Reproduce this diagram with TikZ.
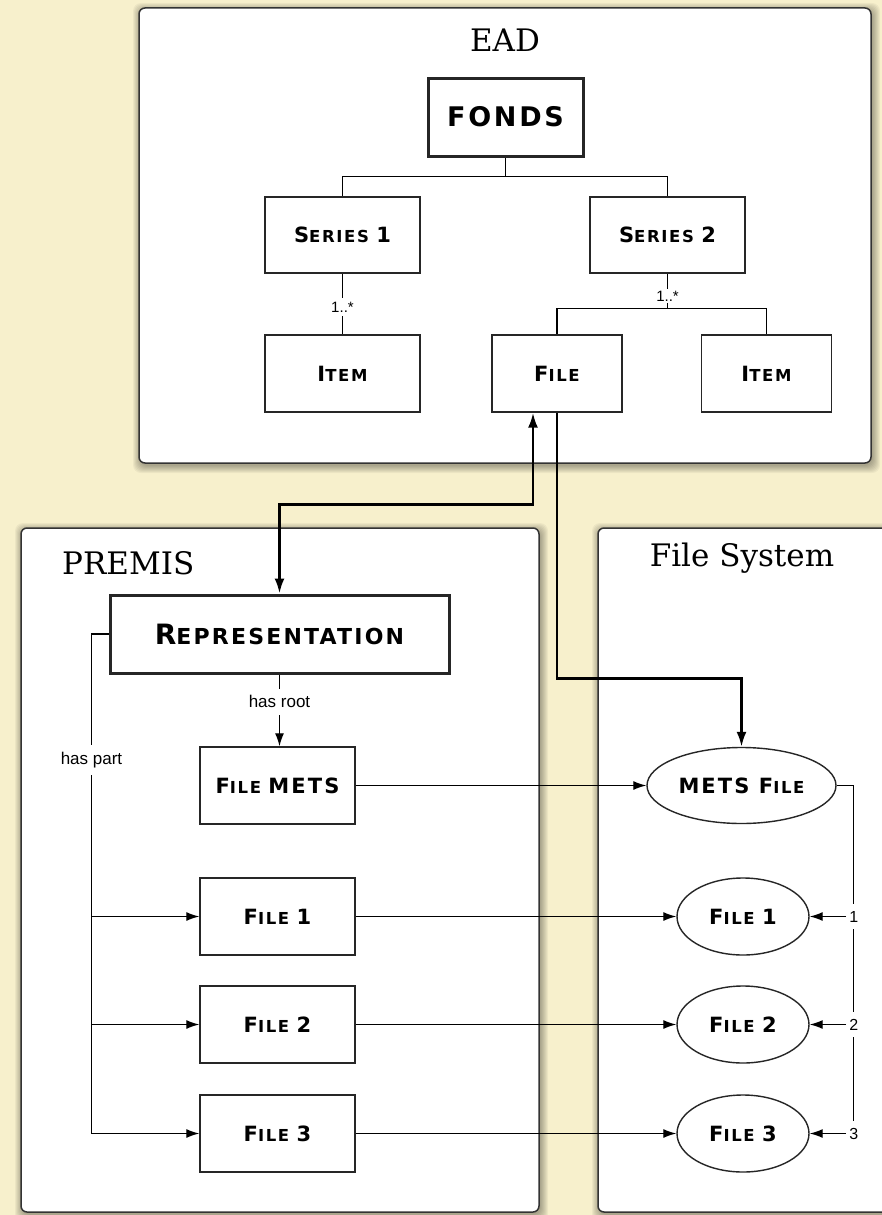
\documentclass[tikz,border=0pt]{standalone}
\usepackage{fontspec}
\setmainfont{Liberation Sans}
\newfontfamily\cgfont[LetterSpace=10]{DejaVu Sans}
\newfontfamily\ttlfont{DejaVu Serif}
\usetikzlibrary{arrows.meta,shapes.geometric}
\definecolor{cream}{RGB}{247,240,204}
% small-caps look: large initials, smaller remaining capitals
\newcommand\bgsz{21}
\newcommand\smsz{16.5}
\newcommand\Bg[1]{{\fontsize{\bgsz}{\bgsz}\selectfont #1}}
\newcommand\Sm[1]{{\fontsize{\smsz}{\smsz}\selectfont #1}}
% soft shadow behind a panel: top-left x,y and bottom-right x,y
\newcommand\softshadow[4]{%
  \foreach \k in {0.5,1.5,...,7.5}{%
    \fill[black,opacity=0.045,rounded corners=8pt]
      ({#1+1.5-\k},{#2+2.5-\k}) rectangle ({#3+1.5+\k},{#4+2.5+\k});}}
\tikzset{
  panel/.style={draw=black!80, line width=1.5pt, fill=white, rounded corners=6pt, inner sep=0pt},
  ttl/.style={font=\ttlfont\fontsize{31}{31}\selectfont, inner sep=0pt},
  box/.style={draw=black!85, line width=1.4pt, fill=white, minimum width=155, minimum height=77,
              inner sep=0pt, font=\cgfont\bfseries\fontsize{16.5}{16.5}\selectfont},
  bigbox/.style={box, line width=3pt},
  oval/.style={box, ellipse},
  lab/.style={fill=white, inner xsep=3pt, inner ysep=7pt, font=\fontsize{17}{17}\selectfont},
  mult/.style={lab, inner ysep=4pt, font=\fontsize{15}{15}\selectfont},
  num/.style={lab, font=\fontsize{16}{16}\selectfont},
  conn/.style={line width=1.3pt},
  arr/.style={conn, -{Latex[length=13pt,width=9pt]}},
  heavy/.style={line width=2.5pt},
}
\begin{document}
\begin{tikzpicture}[x=1pt,y=-1pt]
\useasboundingbox (0,0) rectangle (882,1215);
\fill[cream] (0,0) rectangle (882,1215);

% panels
\softshadow{139}{8}{871}{463}
\softshadow{21}{528}{539}{1212}
\softshadow{598}{528}{900}{1212}
\node[panel, minimum width=732, minimum height=455] (ead) at (505,235.5) {};
\node[panel, minimum width=518, minimum height=684] (premis) at (280,870) {};
\node[panel, minimum width=302, minimum height=684] (fsys) at (749,870) {};

\node[ttl] (eadt) at (505,40) {EAD};
\node[ttl, anchor=west] (premist) at (62,563) {PREMIS};
\node[ttl] (fsyst) at (742,558) {File System};

% EAD hierarchy
\node[bigbox, minimum height=78, font=\cgfont\bfseries\fontsize{27}{27}\selectfont] (fonds) at (505.5,117) {FONDS};
\node[box, minimum height=76] (s1) at (342.5,235) {\Bg{S}\Sm{ERIES} \Bg{1}};
\node[box, minimum height=76] (s2) at (667.5,235) {\Bg{S}\Sm{ERIES} \Bg{2}};
\node[box] (i1) at (342.5,373.5) {\Bg{I}\Sm{TEM}};
\node[box, minimum width=130] (file) at (557,373.5) {\Bg{F}\Sm{ILE}};
\node[box, minimum width=130] (i2) at (766.5,373.5) {\Bg{I}\Sm{TEM}};

\draw[conn] (fonds.south) -- ++(0,19) coordinate (fj);
\draw[conn] (fj) -| (s1.north);
\draw[conn] (fj) -| (s2.north);
\draw[conn] (s1.south) -- (i1.north) node[mult, pos=0.55] {1..*};
\draw[conn] (s2.south) -- ++(0,35) coordinate (sj);
\draw[conn] (sj) -| (file.north);
\draw[conn] (sj) -| (i2.north);
\node[mult, inner ysep=2pt] (s2m) at (667.5,296) {1..*};

% PREMIS
\node[bigbox, minimum width=339, minimum height=78,
      font={\cgfont\bfseries\fontsize{22}{22}\selectfont\renewcommand\bgsz{28}\renewcommand\smsz{22}}]
      (rep) at (279.5,634) {\Bg{R}\Sm{EPRESENTATION}};
\node[box] (fmets) at (277.5,785.5) {\Bg{F}\Sm{ILE} \Bg{METS}};
\node[box] (pf1) at (277.5,916.5) {\Bg{F}\Sm{ILE} \Bg{1}};
\node[box] (pf2) at (277.5,1024.5) {\Bg{F}\Sm{ILE} \Bg{2}};
\node[box] (pf3) at (277.5,1133.5) {\Bg{F}\Sm{ILE} \Bg{3}};

\draw[arr] (rep.south) -- (rep.south |- fmets.north) node[lab, pos=0.38] {has root};
\draw[arr] (rep.west) -- ++(-17,0) coordinate (hp) |- (pf3.west);
\draw[arr] (hp |- pf1.west) -- (pf1.west);
\draw[arr] (hp |- pf2.west) -- (pf2.west);
\path (hp) ++(0,126) node[lab] (hpl) {has part};

% File System
\node[oval, minimum width=189, minimum height=76] (metsf) at (741.5,785.5) {\Bg{METS F}\Sm{ILE}};
\node[oval, minimum width=132] (ef1) at (743,916.5) {\Bg{F}\Sm{ILE} \Bg{1}};
\node[oval, minimum width=132] (ef2) at (743,1024.5) {\Bg{F}\Sm{ILE} \Bg{2}};
\node[oval, minimum width=132] (ef3) at (743,1133.5) {\Bg{F}\Sm{ILE} \Bg{3}};

\draw[arr] (fmets.east) -- (metsf.west);
\draw[arr] (pf1.east) -- (ef1.west);
\draw[arr] (pf2.east) -- (ef2.west);
\draw[arr] (pf3.east) -- (ef3.west);

\draw[conn] (metsf.east) -- ++(17,0) coordinate (mj) -- (mj |- ef3.east);
\node[num] (n1) at (mj |- ef1.east) {1};
\node[num] (n2) at (mj |- ef2.east) {2};
\node[num] (n3) at (mj |- ef3.east) {3};
\draw[arr] (n1.west) -- (ef1.east);
\draw[arr] (n2.west) -- (ef2.east);
\draw[arr] (n3.west) -- (ef3.east);

% links between the EAD file and the other two views
\draw[heavy, {Latex[length=15pt,width=10pt]}-{Latex[length=15pt,width=10pt]}]
  ([xshift=-24pt]file.south) -- ++(0,92) -| (rep.north);
\draw[heavy, -{Latex[length=15pt,width=10pt]}]
  (file.south) -- ++(0,266) -| (metsf.north);
\end{tikzpicture}
\end{document}
